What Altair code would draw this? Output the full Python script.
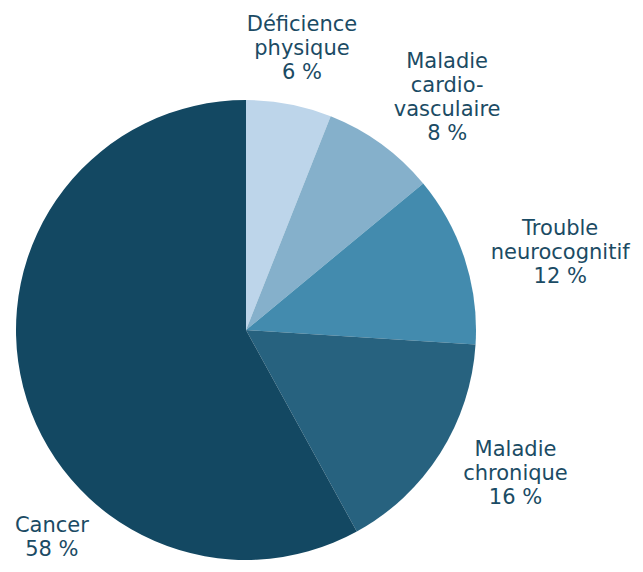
import altair as alt
import pandas as pd
import math

# Data
categories = ["Déficience\nphysique", "Maladie\ncardio-\nvasculaire", "Trouble\nneurocognitif",
              "Maladie\nchronique", "Cancer"]
values = [6, 8, 12, 16, 58]
colors = ["#bdd5ea", "#85b0cb", "#438bae", "#27627f", "#134862"]

# Layout for labels' first line (polar: degrees clockwise from 12 o'clock, pixels from centre)
label_angle = [10.4, 36.9, 72.2, 114.0, 224.7]
label_radius = [310, 335, 330, 295, 276]

df = pd.DataFrame({
    "cat": categories,
    "value": values,
    "idx": list(range(len(values))),
    "label": [f"{c}\n{v} %" for c, v in zip(categories, values)],
    "lt": [math.radians(a) for a in label_angle],
    "lr": label_radius,
})

CX, CY = 238, 322
TEXT = "#1b4b64"
FONT = "DejaVu Sans"

base = alt.Chart(df)

arcs = base.mark_arc(outerRadius=230).encode(
    theta=alt.Theta("value:Q", stack=True),
    color=alt.Color("cat:N", scale=alt.Scale(domain=categories, range=colors), legend=None),
    order=alt.Order("idx:Q"),
    x=alt.value(CX),
    y=alt.value(CY),
)

labels = base.mark_text(
    font=FONT, fontSize=21, color=TEXT, align="center", baseline="middle",
    lineBreak="\n", lineHeight=24,
).encode(
    theta=alt.Theta("lt:Q", scale=None, stack=None),
    radius=alt.Radius("lr:Q", scale=None),
    text="label:N",
    x=alt.value(CX),
    y=alt.value(CY),
)

chart = alt.layer(arcs, labels).properties(
    width=627, height=556, padding=0, autosize=alt.AutoSizeParams(type="none")
).configure_view(stroke=None)

chart.save("out.html", embed_options={"renderer": "svg", "actions": False})
